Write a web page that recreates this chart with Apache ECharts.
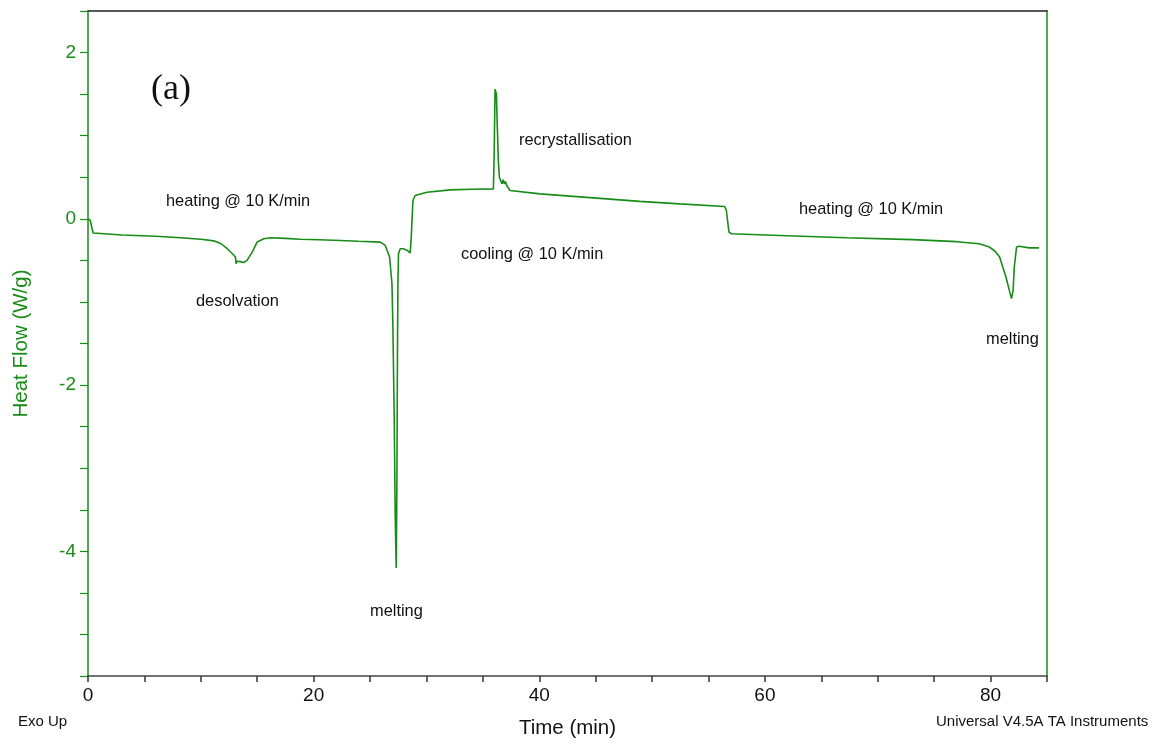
<!DOCTYPE html>
<html>
<head>
<meta charset="utf-8">
<script src="https://cdn.jsdelivr.net/npm/echarts@6/dist/echarts.min.js"></script>
<style>
html,body{margin:0;padding:0;background:#fff;}
#chart{width:1165px;height:745px;}
</style>
</head>
<body>
<div id="chart"></div>
<script>
// Time (min)
const timeMin = [
  0, 0.2, 0.45, 0.55, 3, 6, 8.2, 10, 11.15, 11.8, 12.34, 12.8, 13.07, 13.12, 13.2, 13.5, 13.8, 14.1, 14.55, 14.99,
  15.58, 16.17, 17.5, 18.8, 20.5, 22.36, 24, 25.9, 26.35, 26.73, 26.94, 27.02, 27.14, 27.23, 27.32, 27.38, 27.43,
  27.47, 27.52, 27.67, 27.96, 28.3, 28.56, 28.65, 28.8, 29.0, 30.04, 32.1, 34, 35.93, 35.99, 36.08, 36.2, 36.28,
  36.37, 36.46, 36.58, 36.7, 36.8, 36.9, 37.0, 37.11, 37.41, 40.06, 44.5, 48.9, 52.45, 56.43, 56.58, 56.81, 57.03,
  61.3, 67.2, 73.1, 77, 79.0, 79.9, 80.4, 80.8, 81.36, 81.85, 82.0, 82.1, 82.3, 82.54, 83.43, 84.3
];
// Heat Flow (W/g)
const heatFlow = [
  0, -0.02, -0.17, -0.18, -0.195, -0.21, -0.228, -0.245, -0.265, -0.3, -0.36, -0.42, -0.46, -0.54, -0.51, -0.515, -0.525, -0.5, -0.40, -0.28,
  -0.24, -0.228, -0.235, -0.245, -0.252, -0.26, -0.27, -0.28, -0.32, -0.46, -0.78, -1.26, -2.38, -3.58, -4.2, -3.18, -1.58,
  -0.78, -0.42, -0.36, -0.36, -0.38, -0.41, -0.22, 0.22, 0.28, 0.32, 0.348, 0.355, 0.36, 0.70, 1.56, 1.50, 1.10,
  0.70, 0.50, 0.46, 0.42, 0.47, 0.42, 0.45, 0.40, 0.34, 0.30, 0.255, 0.21, 0.18, 0.148, 0.10, -0.16, -0.18,
  -0.20, -0.228, -0.25, -0.275, -0.30, -0.34, -0.39, -0.46, -0.70, -0.96, -0.86, -0.58, -0.34, -0.33, -0.35, -0.35
];
const xTickLabels = [0, 20, 40, 60, 80];
const yTickLabels = [-4, -2, 0, 2];
const annotations = [
  {text: 'heating @ 10 K/min', x: 166, y: 202},
  {text: 'desolvation', x: 196, y: 302},
  {text: 'melting', x: 370, y: 612},
  {text: 'cooling @ 10 K/min', x: 461, y: 255},
  {text: 'recrystallisation', x: 519, y: 141},
  {text: 'heating @ 10 K/min', x: 799, y: 210},
  {text: 'melting', x: 986, y: 340}
];

const GREEN = '#178c17';
const FONT = '"Liberation Sans", Arial, sans-serif';
const chart = echarts.init(document.getElementById('chart'));
const data = timeMin.map((t, i) => [t, heatFlow[i]]);

const graphics = annotations.map(a => ({
  type: 'text', left: a.x, top: a.y - 9,
  style: {text: a.text, fill: '#111', font: '16.4px ' + FONT}
}));
graphics.push({type: 'text', left: 151, top: 72, style: {text: '(a)', fill: '#111', font: '36px "Liberation Serif", "Times New Roman", serif'}});
graphics.push({type: 'text', left: 18, top: 714, style: {text: 'Exo Up', fill: '#111', font: '15px ' + FONT}});
graphics.push({type: 'text', left: 936, top: 714, style: {text: 'Universal V4.5A TA Instruments', fill: '#111', font: '15px ' + FONT}});

chart.setOption({
  animation: false,
  backgroundColor: '#fff',
  grid: {left: 88, right: 118, top: 11, bottom: 69},
  xAxis: [{
    type: 'value', min: 0, max: 85, interval: 5, position: 'bottom',
    axisLine: {onZero: false, lineStyle: {color: '#444', width: 1.5}},
    axisTick: {inside: false, length: 6, lineStyle: {color: '#333', width: 1.5}},
    axisLabel: {interval: 0, color: '#111', fontSize: 19, fontFamily: FONT, margin: 10,
      formatter: v => xTickLabels.includes(v) ? String(v) : ''},
    splitLine: {show: false},
    name: 'Time (min)', nameLocation: 'middle', nameGap: 42,
    nameTextStyle: {color: '#111', fontSize: 20.5, fontFamily: FONT}
  }, {
    type: 'value', min: 0, max: 85, position: 'top',
    axisLine: {show: true, onZero: false, lineStyle: {color: '#222', width: 1.5}},
    axisTick: {show: false}, axisLabel: {show: false}, splitLine: {show: false}
  }],
  yAxis: [{
    type: 'value', min: -5.5, max: 2.5, interval: 0.5, position: 'left',
    axisLine: {show: true, onZero: false, lineStyle: {color: GREEN, width: 1.5}},
    axisTick: {show: true, inside: false, length: 8, lineStyle: {color: GREEN, width: 1.2}},
    axisLabel: {interval: 0, color: GREEN, fontSize: 19, fontFamily: FONT, margin: 12,
      formatter: v => yTickLabels.some(l => Math.abs(l - v) < 1e-9) ? String(Math.round(v)) : ''},
    splitLine: {show: false},
    name: 'Heat Flow (W/g)', nameLocation: 'middle', nameGap: 56,
    nameTextStyle: {color: GREEN, fontSize: 20.5, fontFamily: FONT}
  }, {
    type: 'value', min: -5.5, max: 2.5, position: 'right',
    axisLine: {show: true, onZero: false, lineStyle: {color: GREEN, width: 1.5}},
    axisTick: {show: false}, axisLabel: {show: false}, splitLine: {show: false}
  }],
  series: [{
    type: 'line', data: data, showSymbol: false, xAxisIndex: 0, yAxisIndex: 0,
    lineStyle: {color: GREEN, width: 1.6}, smooth: false
  }],
  graphic: graphics
});
</script>
</body>
</html>
